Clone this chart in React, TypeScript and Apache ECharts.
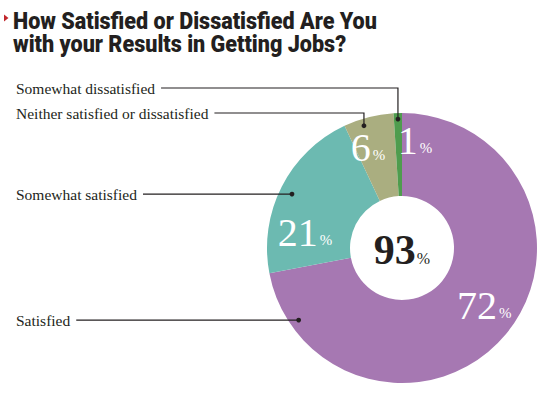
import React, { useEffect, useRef } from 'react';
import * as echarts from 'echarts';

// ---- data ----
const categories = [
  'Satisfied',
  'Somewhat satisfied',
  'Neither satisfied or dissatisfied',
  'Somewhat dissatisfied',
];
const values = [72, 21, 6, 1];
const titleLines = [
  'How Satisfied or Dissatisfied Are You',
  'with your Results in Getting Jobs?',
];

// ---- styles / layout ----
const colors = ['#a678b2', '#6cbab1', '#aaae80', '#4f9c4e'];
const W = 558;
const H = 395;
const CX = 402;
const CY = 248;
const R0 = 52;
const R1 = 135;
const labelOffsets = [
  [8, -4],
  [-11, 28],
  [-10, -7],
  [16, -11],
];
const anchorFrac = [0.907, 0.488, 0.366, 0.5];
const anchorRad = [126, 122.5, 128, 129];
const labelYs: (number | null)[] = [null, null, 113, 88];
const LABEL_X = 16;
const LABEL_GAP = 6;
const SERIF = '"Liberation Serif", "DejaVu Serif", serif';
const LABEL_FONT = `15.5px ${SERIF}`;
const TITLE_FONT_SIZE = 23;
const TITLE_FONT = `900 ${TITLE_FONT_SIZE}px Roboto, "Liberation Sans", sans-serif`;
const TITLE_TARGET_WIDTH = 364;
const INK = '#231f20';

function measure(text: string, font: string): number {
  const c = document.createElement('canvas').getContext('2d');
  if (!c) return text.length * 7;
  c.font = font;
  return c.measureText(text).width;
}

export default function App() {
  const ref = useRef<HTMLDivElement>(null);
  useEffect(() => {
    document.body.style.margin = '0';
    if (!ref.current) return;
    const chart = echarts.init(ref.current, undefined, { renderer: 'svg' });

    const total = values.reduce((a, b) => a + b, 0);
    let cum = 0;
    const graphics: any[] = [];
    values.forEach((v, i) => {
      const span = (v / total) * 360;
      const a = ((cum + anchorFrac[i] * span) * Math.PI) / 180;
      cum += span;
      const ax = CX + anchorRad[i] * Math.sin(a);
      const ay = CY - anchorRad[i] * Math.cos(a);
      const ly = labelYs[i] == null ? ay : (labelYs[i] as number);
      const tw = measure(categories[i], LABEL_FONT);
      const sx = LABEL_X + tw + LABEL_GAP;
      const pts = labelYs[i] == null ? [[sx, ly], [ax, ay]] : [[sx, ly], [ax, ly], [ax, ay]];
      graphics.push({
        type: 'text',
        x: LABEL_X,
        y: ly,
        style: {
          text: categories[i],
          font: LABEL_FONT,
          fill: INK,
          textAlign: 'left',
          textVerticalAlign: 'middle',
        },
      });
      graphics.push({
        type: 'polyline',
        shape: { points: pts },
        style: { stroke: INK, lineWidth: 1.2, fill: null },
        z: 10,
      });
      graphics.push({
        type: 'circle',
        shape: { cx: ax, cy: ay, r: 2.4 },
        style: { fill: INK },
        z: 10,
      });
    });

    // centre total: satisfied + somewhat satisfied
    const satisfiedTotal = values[0] + values[1];
    graphics.push({
      type: 'text',
      x: CX,
      y: CY + 2,
      z: 10,
      style: {
        text: `{n|${satisfiedTotal}}{p|%}`,
        textAlign: 'center',
        textVerticalAlign: 'middle',
        rich: {
          n: { fontFamily: SERIF, fontSize: 42, fontWeight: 'bold', fill: INK, color: INK, lineHeight: 46 },
          p: { fontFamily: SERIF, fontSize: 16, fill: INK, color: INK, verticalAlign: 'bottom', lineHeight: 46, padding: [0, 0, 7, 1] },
        },
      },
    });

    // title
    const tw = measure(titleLines[0], TITLE_FONT);
    const sc = tw > 0 ? TITLE_TARGET_WIDTH / tw : 1;
    titleLines.forEach((t, i) => {
      graphics.push({
        type: 'text',
        x: 13,
        y: 20.5 + i * 23.5,
        scaleX: sc,
        style: {
          text: t,
          font: TITLE_FONT,
          fill: INK,
          textAlign: 'left',
          textVerticalAlign: 'middle',
        },
      });
    });
    graphics.push({
      type: 'polygon',
      shape: { points: [[4, 14.5], [8.5, 18], [4, 21.5]] },
      style: { fill: '#c1272d' },
    });

    chart.setOption({
      animation: false,
      graphic: graphics,
      series: [
        {
          type: 'pie',
          center: [CX, CY],
          radius: [R0, R1],
          startAngle: 90,
          clockwise: true,
          silent: true,
          avoidLabelOverlap: false,
          data: categories.map((c, i) => ({
            name: c,
            value: values[i],
            itemStyle: { color: colors[i] },
          })),
          itemStyle: { borderWidth: 0 },
          label: {
            show: true,
            position: 'inside',
            formatter: (p: any) => `{n|${p.value}}{p|%}`,
            rich: {
              n: { fontFamily: SERIF, fontSize: 40, color: '#ffffff', lineHeight: 44 },
              p: { fontFamily: SERIF, fontSize: 15, color: '#ffffff', verticalAlign: 'bottom', lineHeight: 44, padding: [0, 0, 7, 2] },
            },
          },
          labelLine: { show: false },
          labelLayout: (params: any) => {
            const o = labelOffsets[params.dataIndex] || [0, 0];
            return { dx: o[0], dy: o[1] };
          },
          emphasis: { disabled: true },
        },
      ],
    });
    return () => chart.dispose();
  }, []);
  return <div ref={ref} style={{ width: W, height: H }} />;
}
